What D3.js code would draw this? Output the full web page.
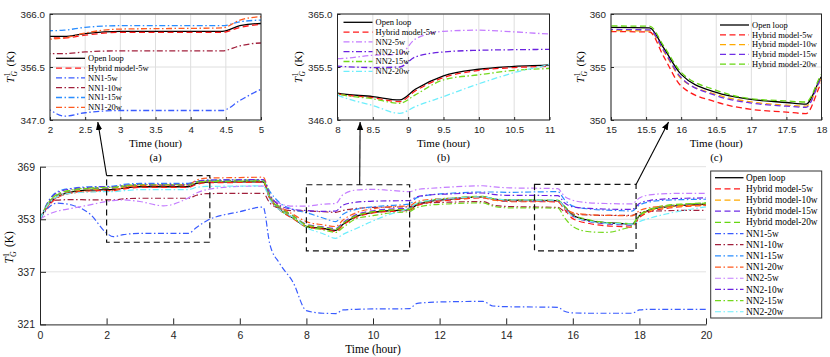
<!DOCTYPE html>
<meta charset="utf-8">
<title>Generator temperature T_G^1</title>
<script src="https://d3js.org/d3.v7.min.js"></script>
<style>
body { margin: 0; background: #fff; }
svg { display: block; }
.tick text { font-family: "Liberation Sans", Arial, sans-serif; fill: #262626; }
.serif { font-family: "Liberation Serif", "Times New Roman", serif; fill: #000; font-weight: normal; }
</style>
<body>
<div id="vis"></div>
<script>

// time stamps (hour) shared by every series
var T = [0, 0.25, 0.5, 1, 1.5, 2, 2.2, 2.5, 3, 3.7, 4.45, 4.7, 5, 6, 6.7, 6.9, 7.2, 7.6, 8, 8.5,
  8.88, 9.1, 9.5, 10, 10.5, 11.1, 11.3, 11.7, 12.3, 13.3, 13.6, 14, 15.55, 15.75, 16, 16.5,
  17, 17.5, 17.78, 18, 18.3, 18.8, 19.4, 20];

var openLoop = [353, 357.5, 359.8, 361.4, 361.9, 362.0, 362.0, 362.5, 362.9, 362.9, 362.9, 363.9, 364.3, 364.4, 364.4,
  359.5, 356.0, 353.4, 350.8, 350.2, 349.6, 351.5, 353.9, 355.1, 355.6, 355.95, 357.3, 358.4, 359.1, 359.8,
  359.2, 358.8, 358.7, 356.8, 354.3, 352.6, 351.95, 351.65, 351.5, 354.1, 355.8, 356.8, 357.3, 357.6];
var hybrid5 = [353, 357.0, 359.4, 361.1, 361.6, 361.7, 361.7, 362.2, 362.7, 362.7, 362.7, 363.6, 364.1, 364.2, 364.3,
  359.3, 355.8, 353.2, 350.7, 350.0, 349.3, 351.2, 353.6, 354.9, 355.4, 355.75, 357.0, 358.1, 358.8, 359.5,
  358.9, 358.4, 358.3, 356.0, 353.2, 351.7, 351.0, 350.75, 350.6, 353.5, 355.2, 356.3, 356.9, 357.2];
var hybrid10 = [353, 357.8, 360.0, 361.6, 362.1, 362.3, 362.3, 362.8, 363.2, 363.2, 363.2, 364.2, 364.6, 364.7, 364.8,
  359.8, 356.2, 353.7, 351.2, 350.5, 350.0, 351.8, 354.1, 355.3, 355.8, 356.1, 357.4, 358.4, 359.1, 359.7,
  359.0, 358.5, 358.4, 356.5, 353.9, 352.4, 351.7, 351.4, 351.3, 353.9, 355.6, 356.6, 357.1, 357.4];
var hybrid15 = [353, 357.6, 360.2, 361.8, 362.3, 362.5, 362.5, 363.0, 363.3, 363.3, 363.3, 364.3, 364.7, 364.8, 364.9,
  360.0, 356.5, 354.0, 351.5, 350.7, 350.2, 352.0, 354.4, 355.6, 356.1, 356.4, 357.6, 358.6, 359.2, 359.9,
  359.2, 358.6, 358.5, 356.6, 354.0, 352.3, 351.6, 351.3, 351.2, 354.0, 355.9, 357.0, 357.5, 357.8];
var hybrid20 = [353, 358.0, 360.4, 361.9, 362.4, 362.6, 362.6, 363.1, 363.5, 363.5, 363.5, 364.4, 364.8, 364.9, 364.9,
  360.2, 356.7, 354.1, 351.3, 350.5, 349.9, 351.7, 354.1, 355.3, 355.8, 356.1, 357.6, 358.7, 359.4, 360.0,
  359.3, 358.9, 358.85, 357.0, 354.5, 352.8, 352.0, 351.8, 351.7, 354.3, 356.0, 357.2, 357.7, 358.0];
var nn1_5 = [353, 356.5, 357.9, 357.2, 354.6, 348.8, 347.7, 348.3, 348.7, 348.7, 348.7, 350.5, 352.5, 355.3, 356.7,
  345.5, 339.5, 333.8, 325.2, 324.4, 324.3, 325.4, 325.6, 325.7, 325.7, 325.8, 327.3, 327.7, 327.9, 328.0,
  326.6, 326.4, 326.2, 325.0, 324.5, 324.4, 324.4, 324.4, 324.4, 325.4, 325.6, 325.6, 325.6, 325.6];
var nn1_10 = [353, 357.5, 358.8, 359.0, 358.9, 358.9, 358.9, 359.2, 359.4, 359.4, 359.4, 360.3, 360.8, 360.9, 360.9,
  358.0, 356.3, 355.6, 355.5, 355.3, 355.1, 355.7, 356.3, 356.6, 356.7, 356.8, 357.6, 358.0, 358.2, 358.4,
  357.3, 356.9, 356.6, 355.4, 354.6, 354.3, 354.2, 354.2, 354.2, 355.0, 355.4, 355.6, 355.7, 355.7];
var nn1_15 = [353, 358.5, 361.3, 362.5, 362.9, 363.0, 363.1, 363.6, 363.9, 363.9, 363.9, 364.6, 364.9, 365.0, 365.0,
  361.5, 358.0, 356.0, 355.0, 353.4, 352.3, 354.5, 356.0, 356.8, 357.2, 357.6, 359.5, 360.4, 360.9, 361.3,
  361.3, 361.2, 361.4, 359.0, 357.0, 356.1, 355.8, 355.6, 355.5, 357.3, 358.3, 358.8, 359.0, 359.1];
var nn1_20 = [353, 357.2, 359.6, 361.0, 361.4, 361.5, 361.7, 362.6, 363.3, 363.4, 363.5, 364.9, 365.5, 365.7, 365.8,
  360.5, 357.0, 354.5, 352.3, 351.3, 350.8, 352.8, 355.0, 356.2, 356.8, 357.1, 358.3, 359.0, 359.4, 359.7,
  359.0, 358.6, 358.5, 356.5, 355.0, 354.4, 354.2, 354.1, 354.0, 355.6, 356.5, 357.0, 357.2, 357.3];
var nn2_5 = [353, 354.5, 355.4, 356.4, 357.4, 358.4, 358.7, 358.9, 358.4, 357.1, 359.5, 361.0, 362.0, 363.0, 363.1,
  360.0, 357.8, 357.0, 357.0, 357.6, 357.8, 360.5, 361.9, 362.1, 361.8, 361.4, 362.0, 362.4, 362.8, 363.2,
  362.9, 362.6, 362.3, 360.0, 358.8, 358.0, 357.8, 357.7, 357.7, 359.5, 360.4, 360.8, 360.9, 360.9];
var nn2_10 = [353, 358.3, 361.0, 362.3, 362.7, 362.9, 362.9, 363.3, 363.6, 363.6, 363.6, 364.5, 364.9, 365.0, 365.1,
  360.5, 357.2, 356.0, 355.65, 355.4, 355.5, 357.3, 358.2, 358.5, 358.6, 358.7, 359.8, 360.4, 360.7, 361.0,
  360.6, 360.3, 360.2, 358.0, 356.8, 356.3, 356.1, 356.0, 356.0, 357.8, 358.7, 359.2, 359.4, 359.5];
var nn2_15 = [353, 358.0, 360.5, 362.0, 362.5, 362.7, 362.7, 363.2, 363.5, 363.5, 363.5, 364.2, 364.5, 364.6, 364.7,
  359.8, 356.0, 353.5, 350.7, 349.8, 349.0, 350.5, 353.2, 354.1, 354.9, 355.4, 356.5, 357.3, 357.7, 358.0,
  357.0, 356.5, 356.4, 353.5, 350.8, 349.2, 349.0, 350.0, 351.0, 354.0, 355.8, 357.0, 357.6, 357.9];
var nn2_20 = [353, 357.5, 359.8, 361.0, 361.3, 361.4, 361.4, 361.7, 362.0, 362.0, 362.0, 362.7, 363.0, 363.1, 363.2,
  359.0, 355.8, 353.6, 350.5, 348.6, 347.2, 348.4, 350.2, 352.5, 354.5, 356.5, 357.8, 358.8, 359.4, 359.8,
  359.3, 358.9, 358.8, 356.5, 353.8, 352.4, 351.8, 351.6, 351.5, 352.3, 353.3, 354.6, 355.8, 356.8];

var names = ["Open loop", "Hybrid model-5w", "Hybrid model-10w", "Hybrid model-15w", "Hybrid model-20w",
  "NN1-5w", "NN1-10w", "NN1-15w", "NN1-20w", "NN2-5w", "NN2-10w", "NN2-15w", "NN2-20w"];
var colors = ["#000000", "#ff1a1a", "#ffaa00", "#6f2ee6", "#66d611",
  "#3a5cff", "#a1203c", "#2a8dff", "#ff5a1f", "#c47cff", "#6a22e0", "#74d81c", "#6eeefc"];
var values = [openLoop, hybrid5, hybrid10, hybrid15, hybrid20, nn1_5, nn1_10, nn1_15, nn1_20, nn2_5, nn2_10, nn2_15, nn2_20];

var DASH = "6,3.5", DASHDOT = "6,2.5,1.5,2.5";
var series = names.map(function(n, i) {
  return {
    name: n,
    color: colors[i],
    dash: i === 0 ? null : (i < 5 ? DASH : DASHDOT),
    points: T.map(function(t, j) { return [t, values[i][j]]; })
  };
});

var W = 830, H = 357;
var svg = d3.select("#vis").append("svg").attr("width", W).attr("height", H);

var defs = svg.append("defs");
defs.append("marker").attr("id", "arrow")
  .attr("viewBox", "0 0 10 10").attr("refX", 10).attr("refY", 5)
  .attr("markerWidth", 8).attr("markerHeight", 8).attr("markerUnits", "userSpaceOnUse")
  .attr("orient", "auto")
  .append("path").attr("d", "M0,1 L10,5 L0,9 Z").attr("fill", "#000");

function yLabel(g, x, y, size) {
  var l = g.append("g").attr("class", "serif")
    .attr("transform", "translate(" + x + "," + y + ") rotate(-90)")
    .style("font-size", size + "px");
  l.append("text").attr("x", -16).attr("y", 0).style("font-style", "italic").text("T");
  l.append("text").attr("x", -9.5).attr("y", -4).style("font-size", (size * 0.68) + "px").text("1");
  l.append("text").attr("x", -9.5).attr("y", 3).style("font-size", (size * 0.68) + "px")
    .style("font-style", "italic").text("G");
  l.append("text").attr("x", 0.5).attr("y", 0).text("(K)");
}

// ---------- main chart ----------
var M = { left: 40, right: 706, top: 166.7, bottom: 324.4 };
var x = d3.scaleLinear().domain([0, 20]).range([M.left, M.right]);
var y = d3.scaleLinear().domain([321, 369]).range([M.bottom, M.top]);

var main = svg.append("g");
main.selectAll(".hgrid").data([337, 353, 369]).enter().append("line")
  .attr("x1", M.left).attr("x2", M.right)
  .attr("y1", function(d) { return y(d); }).attr("y2", function(d) { return y(d); })
  .attr("stroke", "#e2e2e2").attr("stroke-width", 1);

defs.append("clipPath").attr("id", "clip-main").append("rect")
  .attr("x", M.left).attr("y", M.top - 2).attr("width", M.right - M.left).attr("height", M.bottom - M.top + 2);

var line = d3.line().curve(d3.curveMonotoneX)
  .x(function(d) { return x(d[0]); }).y(function(d) { return y(d[1]); });

main.append("g").attr("clip-path", "url(#clip-main)")
  .selectAll("path").data(series).enter().append("path")
  .attr("d", function(d) { return line(d.points); })
  .attr("fill", "none")
  .attr("stroke", function(d) { return d.color; })
  .attr("stroke-width", function(d) { return d.dash ? 1.2 : 1.3; })
  .attr("stroke-dasharray", function(d) { return d.dash; });

var xAxis = main.append("g").attr("transform", "translate(0," + M.bottom + ")")
  .call(d3.axisBottom(x).tickValues(d3.range(0, 21, 2)).tickSize(-6).tickSizeOuter(0).tickPadding(7));
var yAxis = main.append("g").attr("transform", "translate(" + M.left + ",0)")
  .call(d3.axisLeft(y).tickValues([321, 337, 353, 369]).tickSize(-6).tickSizeOuter(0).tickPadding(5));
[xAxis, yAxis].forEach(function(a) {
  a.selectAll("path, line").attr("stroke", "#262626");
  a.selectAll("text").style("font-size", "10.5px");
});

main.append("text").attr("class", "serif").attr("x", (M.left + M.right) / 2).attr("y", 353)
  .attr("text-anchor", "middle").style("font-size", "11.5px").text("Time (hour)");
yLabel(main, 13, (M.top + M.bottom) / 2 + 2, 11.5);

// zoom boxes on the main chart
var boxes = [
  { t0: 2, t1: 5.1, k0: 346, k1: 366.3 },
  { t0: 8, t1: 11.1, k0: 343.4, k1: 363.5 },
  { t0: 14.85, t1: 17.9, k0: 343.4, k1: 363.6 }
];
main.selectAll(".zbox").data(boxes).enter().append("rect")
  .attr("x", function(d) { return x(d.t0); }).attr("y", function(d) { return y(d.k1); })
  .attr("width", function(d) { return x(d.t1) - x(d.t0); })
  .attr("height", function(d) { return y(d.k0) - y(d.k1); })
  .attr("fill", "none").attr("stroke", "#111").attr("stroke-width", 1.2)
  .attr("stroke-dasharray", "6,4");

// main legend
var lg = svg.append("g");
lg.append("rect").attr("x", 710.7).attr("y", 171).attr("width", 111).attr("height", 147)
  .attr("fill", "#fff").attr("stroke", "#333").attr("stroke-width", 1);
var le = lg.selectAll(".le").data(series).enter().append("g")
  .attr("transform", function(d, i) { return "translate(0," + (177.7 + i * 11.17) + ")"; });
le.append("line").attr("x1", 715).attr("x2", 743.5)
  .attr("stroke", function(d) { return d.color; })
  .attr("stroke-width", function(d) { return d.dash ? 1.2 : 1.3; })
  .attr("stroke-dasharray", function(d) { return d.dash; });
le.append("text").attr("class", "serif").attr("x", 746).attr("dy", "0.33em")
  .style("font-size", "9.4px").text(function(d) { return d.name; });

// ---------- insets ----------
function drawInset(o) {
  var g = svg.append("g");
  var xs = d3.scaleLinear().domain(o.xDom).range([o.left, o.right]);
  var ys = d3.scaleLinear().domain(o.yDom).range([o.bottom, o.top]);
  var xt = d3.range(o.xDom[0], o.xDom[1] + 0.01, 0.5);

  g.append("g").selectAll("line").data(xt).enter().append("line")
    .attr("x1", function(d) { return xs(d); }).attr("x2", function(d) { return xs(d); })
    .attr("y1", o.top).attr("y2", o.bottom).attr("stroke", "#dedede");
  g.append("g").selectAll("line").data(o.yTicks).enter().append("line")
    .attr("y1", function(d) { return ys(d); }).attr("y2", function(d) { return ys(d); })
    .attr("x1", o.left).attr("x2", o.right).attr("stroke", "#dedede");

  defs.append("clipPath").attr("id", "clip-" + o.id).append("rect")
    .attr("x", o.left).attr("y", o.top).attr("width", o.right - o.left).attr("height", o.bottom - o.top);

  var ln = d3.line().curve(d3.curveMonotoneX)
    .x(function(d) { return xs(d[0]); }).y(function(d) { return ys(d[1]); });
  var shown = o.names.map(function(n) { return series.filter(function(s) { return s.name === n; })[0]; });

  g.append("g").attr("clip-path", "url(#clip-" + o.id + ")")
    .selectAll("path").data(shown).enter().append("path")
    .attr("d", function(d) { return ln(d.points); })
    .attr("fill", "none").attr("stroke", function(d) { return d.color; })
    .attr("stroke-width", 1.3)
    .attr("stroke-dasharray", function(d) { return d.dash; });

  var ax = g.append("g").attr("transform", "translate(0," + o.bottom + ")")
    .call(d3.axisBottom(xs).tickValues(xt).tickFormat(function(d) { return d; })
      .tickSize(-3).tickSizeOuter(0).tickPadding(6));
  var ay = g.append("g").attr("transform", "translate(" + o.left + ",0)")
    .call(d3.axisLeft(ys).tickValues(o.yTicks).tickFormat(d3.format(o.yFmt))
      .tickSize(-3).tickSizeOuter(0).tickPadding(5));
  [ax, ay].forEach(function(a) {
    a.select(".domain").remove();
    a.selectAll("line").attr("stroke", "#262626");
    a.selectAll("text").style("font-size", "9.8px");
  });
  g.append("rect").attr("x", o.left).attr("y", o.top)
    .attr("width", o.right - o.left).attr("height", o.bottom - o.top)
    .attr("fill", "none").attr("stroke", "#262626").attr("stroke-width", 1);

  var cx = (o.left + o.right) / 2;
  g.append("text").attr("class", "serif").attr("x", cx).attr("y", 146.5)
    .attr("text-anchor", "middle").style("font-size", "11px").text("Time (hour)");
  g.append("text").attr("class", "serif").attr("x", cx).attr("y", 161)
    .attr("text-anchor", "middle").style("font-size", "11px").text(o.label);
  yLabel(g, o.ylabX, (o.top + o.bottom) / 2, 11);

  var il = g.selectAll(".il").data(shown).enter().append("g")
    .attr("transform", function(d, i) { return "translate(0," + (o.legY + i * 9.8) + ")"; });
  il.append("line").attr("x1", o.legX).attr("x2", o.legX + 29)
    .attr("stroke", function(d) { return d.color; }).attr("stroke-width", 1.3)
    .attr("stroke-dasharray", function(d) { return d.dash; });
  il.append("text").attr("class", "serif").attr("x", o.legX + 32).attr("dy", "0.33em")
    .style("font-size", "8.5px").text(function(d) { return d.name; });

  return { x: xs, y: ys };
}

var insA = drawInset({ id: "a", left: 50, right: 261, top: 14, bottom: 120,
  xDom: [2, 5], yDom: [347, 366], yTicks: [347, 356.5, 366], yFmt: ".1f", ylabX: 14,
  names: ["Open loop", "Hybrid model-5w", "NN1-5w", "NN1-10w", "NN1-15w", "NN1-20w"],
  legX: 56, legY: 58.3, label: "(a)" });
var insB = drawInset({ id: "b", left: 337.5, right: 549.5, top: 14, bottom: 120,
  xDom: [8, 11], yDom: [346, 365], yTicks: [346, 355.5, 365], yFmt: ".1f", ylabX: 302,
  names: ["Open loop", "Hybrid model-5w", "NN2-5w", "NN2-10w", "NN2-15w", "NN2-20w"],
  legX: 343.5, legY: 22.3, label: "(b)" });
var insC = drawInset({ id: "c", left: 611, right: 821.5, top: 14, bottom: 120,
  xDom: [15, 18], yDom: [350, 360], yTicks: [350, 355, 360], yFmt: "d", ylabX: 584,
  names: ["Open loop", "Hybrid model-5w", "Hybrid model-10w", "Hybrid model-15w", "Hybrid model-20w"],
  legX: 720, legY: 25, label: "(c)" });

// arrows from the zoom boxes to the insets
var arrows = [
  { from: [x(2), y(366.3)], to: [insA.x(2.68), 122] },
  { from: [x(9.6), y(363.5)], to: [insB.x(8.32), 122] },
  { from: [x(17.9), y(363.6)], to: [insC.x(15.82), 122] }
];
svg.selectAll(".arr").data(arrows).enter().append("line")
  .attr("x1", function(d) { return d.from[0]; }).attr("y1", function(d) { return d.from[1]; })
  .attr("x2", function(d) { return d.to[0]; }).attr("y2", function(d) { return d.to[1]; })
  .attr("stroke", "#000").attr("stroke-width", 1.1).attr("marker-end", "url(#arrow)");

</script>
</body>
